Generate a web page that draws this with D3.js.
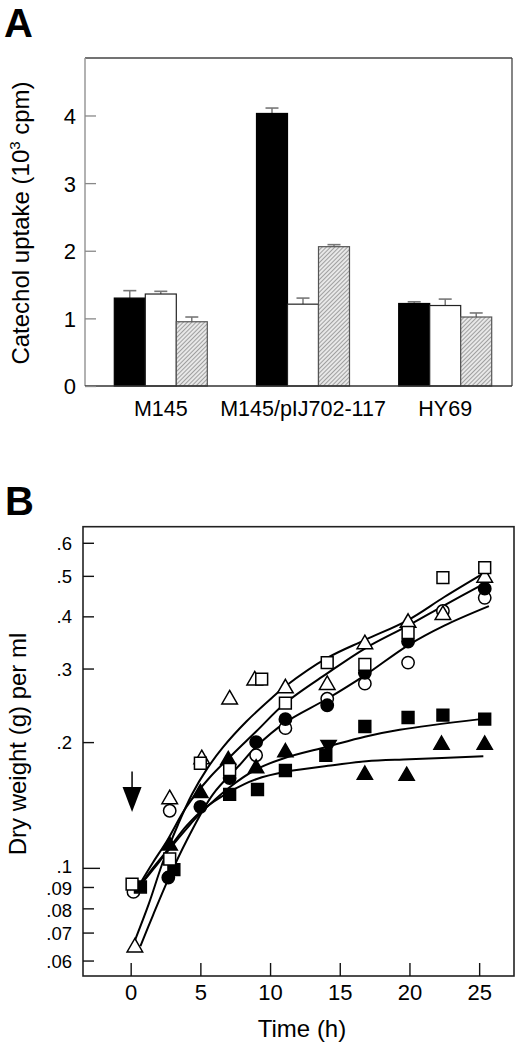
<!DOCTYPE html>
<html><head><meta charset="utf-8">
<script src="https://cdn.jsdelivr.net/npm/d3@7/dist/d3.min.js"></script>
<style>
html,body{margin:0;padding:0;background:#fff;}
svg{display:block;font-family:"Liberation Sans",Arial,sans-serif;}
</style></head>
<body>
<svg id="chart" width="520" height="1047"></svg>
<script>
// ---------- Panel A data ----------
const categoriesA = ["M145", "M145/pIJ702-117", "HY69"];
const seriesA = ["black", "white", "hatched"];
const valuesBlack = [1.30, 4.03, 1.22];
const errorsBlack = [0.11, 0.08, 0.025];
const valuesWhite = [1.36, 1.21, 1.19];
const errorsWhite = [0.04, 0.09, 0.095];
const valuesHatched = [0.95, 2.06, 1.02];
const errorsHatched = [0.07, 0.03, 0.06];
const ticksA = [0, 1, 2, 3, 4];

// ---------- Panel B data ----------
const openSquareT = [0.1, 2.8, 5.0, 7.1, 9.4, 11.1, 14.1, 16.8, 19.9, 22.4, 25.4];
const openSquareV = [0.0914, 0.105, 0.178, 0.172, 0.283, 0.248, 0.310, 0.307, 0.366, 0.495, 0.523];
const openTriangleT = [0.3, 2.8, 5.1, 7.1, 8.9, 11.1, 14.1, 16.8, 19.9, 22.4, 25.4];
const openTriangleV = [0.0645, 0.146, 0.182, 0.253, 0.281, 0.269, 0.274, 0.343, 0.386, 0.403, 0.495];
const openCircleT = [0.2, 2.8, 9.0, 11.1, 14.1, 16.8, 19.9, 22.4, 25.4];
const openCircleV = [0.0876, 0.137, 0.186, 0.216, 0.254, 0.276, 0.310, 0.412, 0.443];
const filledCircleT = [2.7, 5.0, 7.1, 9.0, 11.1, 14.1, 16.8, 19.9, 25.4];
const filledCircleV = [0.0948, 0.140, 0.164, 0.200, 0.227, 0.245, 0.293, 0.348, 0.466];
const filledSquareT = [0.7, 3.1, 7.1, 9.1, 11.1, 14.0, 16.8, 19.9, 22.4, 25.4];
const filledSquareV = [0.090, 0.099, 0.150, 0.154, 0.171, 0.186, 0.218, 0.229, 0.232, 0.227];
const filledTriangleT = [2.8, 5.0, 7.0, 9.0, 11.1, 16.8, 19.8, 22.3, 25.4];
const filledTriangleV = [0.113, 0.151, 0.181, 0.173, 0.189, 0.167, 0.166, 0.197, 0.197];
const filledInvTriangleT = [14.2];
const filledInvTriangleV = [0.197];

// fitted curves
const curve1T = [0.3, 1.3, 2.3, 3.4, 4.4, 5.5, 6.6, 8.3, 10, 11.1, 14.1, 16.8, 19.9, 22.5, 25.4];
const curve1V = [0.067, 0.082, 0.103, 0.127, 0.150, 0.173, 0.194, 0.224, 0.253, 0.272, 0.318, 0.351, 0.392, 0.445, 0.509];
const curve2T = [0.7, 1.6, 2.6, 4.0, 5.7, 7.1, 9.0, 11.1, 14.1, 16.8, 19.9, 22.5, 25.4];
const curve2V = [0.092, 0.103, 0.116, 0.140, 0.165, 0.184, 0.212, 0.248, 0.292, 0.335, 0.380, 0.425, 0.480];
const curve3T = [0.7, 1.6, 2.7, 4.0, 5.9, 7.8, 9.0, 11.1, 14.1, 16.8, 19.9, 22.5, 25.7];
const curve3V = [0.065, 0.077, 0.094, 0.116, 0.150, 0.176, 0.195, 0.223, 0.254, 0.289, 0.341, 0.380, 0.423];
const curve4T = [0.7, 1.6, 2.6, 4.0, 5.0, 7.1, 9.0, 11.0, 14.1, 16.8, 19.3, 25.1];
const curve4V = [0.091, 0.099, 0.109, 0.124, 0.135, 0.156, 0.172, 0.183, 0.195, 0.206, 0.214, 0.227];
const curve5T = [0.7, 1.6, 2.8, 4.0, 5.2, 7.1, 9.0, 11.2, 14.5, 16.9, 20, 25.3];
const curve5V = [0.091, 0.100, 0.112, 0.126, 0.138, 0.152, 0.163, 0.170, 0.176, 0.180, 0.182, 0.185];

const arrowT = 0.1, arrowFromV = 0.17, arrowToV = 0.136;
const ticksBX = [0, 5, 10, 15, 20, 25];
const ticksBY = [0.06, 0.07, 0.08, 0.09, 0.1, 0.2, 0.3, 0.4, 0.5, 0.6];
const tickLabelsBY = [".06", ".07", ".08", ".09", ".1", ".2", ".3", ".4", ".5", ".6"];

const svg = d3.select("#chart");

// hatch pattern
const defs = svg.append("defs");
const pat = defs.append("pattern").attr("id", "hatch").attr("patternUnits", "userSpaceOnUse")
  .attr("width", 3).attr("height", 3).attr("patternTransform", "rotate(45)");
pat.append("rect").attr("width", 3).attr("height", 3).attr("fill", "#e8e8e8");
pat.append("line").attr("x1", 0.5).attr("y1", 0).attr("x2", 0.5).attr("y2", 3)
  .attr("stroke", "#a0a0a0").attr("stroke-width", 1);

// ================= Panel A =================
const A = {left: 85, right: 512, top: 58, bottom: 386};
const yA = d3.scaleLinear().domain([0, 4.85]).range([A.bottom, A.top]);
const xA = d3.scaleBand().domain(categoriesA).range([89.7, 516.3]).paddingInner(0.346).paddingOuter(0.173);
const xSub = d3.scaleBand().domain(seriesA).range([0, xA.bandwidth()]);

svg.append("text").attr("x", 4).attr("y", 37).attr("font-size", 40).attr("font-weight", "bold").text("A");

const gA = svg.append("g");
gA.append("line").attr("x1", A.left).attr("x2", A.right).attr("y1", A.top).attr("y2", A.top).attr("stroke", "#444").attr("stroke-width", 1.3);
gA.append("line").attr("x1", A.right).attr("x2", A.right).attr("y1", A.top).attr("y2", A.bottom).attr("stroke", "#444").attr("stroke-width", 1.3);

const barData = [];
const vals = {black: valuesBlack, white: valuesWhite, hatched: valuesHatched};
const errs = {black: errorsBlack, white: errorsWhite, hatched: errorsHatched};
categoriesA.forEach((c, i) => seriesA.forEach(s => barData.push({c, s, v: vals[s][i], e: errs[s][i]})));

const cx = d => xA(d.c) + xSub(d.s) + xSub.bandwidth() / 2;
const eb = gA.selectAll(".eb").data(barData).enter().append("g");
eb.append("line").attr("x1", cx).attr("x2", cx)
  .attr("y1", d => yA(d.v)).attr("y2", d => yA(d.v + d.e))
  .attr("stroke", "#666").attr("stroke-width", 1.3);
eb.append("line").attr("x1", d => cx(d) - 6.5).attr("x2", d => cx(d) + 6.5)
  .attr("y1", d => yA(d.v + d.e)).attr("y2", d => yA(d.v + d.e))
  .attr("stroke", "#777").attr("stroke-width", 1.6);

gA.selectAll(".bar").data(barData).enter().append("rect")
  .attr("x", d => xA(d.c) + xSub(d.s))
  .attr("y", d => yA(d.v))
  .attr("width", xSub.bandwidth())
  .attr("height", d => yA(0) - yA(d.v))
  .attr("fill", d => d.s === "black" ? "#000" : d.s === "white" ? "#fff" : "url(#hatch)")
  .attr("stroke", d => d.s === "black" ? "#000" : d.s === "white" ? "#222" : "#555")
  .attr("stroke-width", 1.2);

gA.append("line").attr("x1", A.left).attr("x2", A.left).attr("y1", A.top).attr("y2", A.bottom).attr("stroke", "#999").attr("stroke-width", 1.5);
gA.append("line").attr("x1", A.left).attr("x2", A.right).attr("y1", A.bottom).attr("y2", A.bottom).attr("stroke", "#333").attr("stroke-width", 1.5);

const yAxisA = d3.axisRight(yA).tickValues(ticksA).tickSize(11).tickFormat(d3.format("d"));
const gyA = gA.append("g").attr("transform", `translate(${A.left},0)`).call(yAxisA);
gyA.select(".domain").remove();
gyA.selectAll(".tick line").attr("stroke", "#888").attr("stroke-width", 1.3);
gyA.selectAll(".tick text").attr("x", -9).attr("text-anchor", "end").attr("font-size", 22).attr("fill", "#000").attr("dy", "0.36em");

const xAxisA = d3.axisBottom(xA).tickSize(0);
const gxA = gA.append("g").attr("transform", `translate(0,${A.bottom})`).call(xAxisA);
gxA.select(".domain").remove();
gxA.selectAll(".tick text").attr("y", 15).attr("dy", "0.71em").attr("font-size", 21.5).attr("fill", "#000");

const ytA = svg.append("text").attr("transform", "translate(29,223) rotate(-90)").attr("text-anchor", "middle").attr("font-size", 24);
ytA.append("tspan").text("Catechol uptake (10");
ytA.append("tspan").attr("font-size", 15).attr("dy", -9).text("3");
ytA.append("tspan").attr("dy", 9).text(" cpm)");

// ================= Panel B =================
const B = {left: 83, right: 514, top: 526.7, bottom: 976};
const xB = d3.scaleLinear().domain([-3.42, 27.5]).range([B.left, B.right]);
const yB = d3.scaleLog().domain([0.0551, 0.6556]).range([B.bottom, B.top]);

svg.append("text").attr("x", 5).attr("y", 515).attr("font-size", 40).attr("font-weight", "bold").text("B");

const gB = svg.append("g");
gB.append("rect").attr("x", B.left).attr("y", B.top).attr("width", B.right - B.left).attr("height", B.bottom - B.top)
  .attr("fill", "none").attr("stroke", "#222").attr("stroke-width", 1.6);

const xAxisB = d3.axisTop(xB).tickValues(ticksBX).tickSize(13).tickFormat(d3.format("d"));
const gxB = gB.append("g").attr("transform", `translate(0,${B.bottom})`).call(xAxisB);
gxB.select(".domain").remove();
gxB.selectAll(".tick line").attr("stroke", "#111").attr("stroke-width", 1.4);
gxB.selectAll(".tick text").attr("y", 8).attr("dy", "0.71em").attr("font-size", 22).attr("fill", "#000");

const yAxisB = d3.axisRight(yB).tickValues(ticksBY).tickSize(11).tickFormat((d, i) => tickLabelsBY[i]);
const gyB = gB.append("g").attr("transform", `translate(${B.left},0)`).call(yAxisB);
gyB.select(".domain").remove();
gyB.selectAll(".tick line").attr("stroke", "#111").attr("stroke-width", 1.4)
  .attr("x2", d => d === 0.1 ? 17 : 11);
const labelShift = d => d === 0.1 ? -2.4 : d === 0.09 ? 0.6 : d === 0.08 ? 1.4 : 0;
gyB.selectAll(".tick text").attr("x", -11).attr("text-anchor", "end").attr("font-size", 18.5).attr("fill", "#000")
  .attr("dy", d => (6.6 + labelShift(d)) + "px");

// curves
const curves = [[curve1T, curve1V], [curve2T, curve2V], [curve3T, curve3V], [curve4T, curve4V], [curve5T, curve5V]];
const lineGen = d3.line().x(d => xB(d[0])).y(d => yB(d[1])).curve(d3.curveCatmullRom.alpha(0.5));
curves.forEach(([ts, vs]) => {
  gB.append("path").datum(ts.map((t, i) => [t, vs[i]])).attr("d", lineGen)
    .attr("fill", "none").attr("stroke", "#000").attr("stroke-width", 2);
});

// arrow
gB.append("line").attr("x1", xB(arrowT)).attr("x2", xB(arrowT)).attr("y1", yB(arrowFromV)).attr("y2", yB(arrowToV) - 20)
  .attr("stroke", "#000").attr("stroke-width", 1.5);
gB.append("path").attr("d", `M${xB(arrowT) - 9.5},${yB(arrowToV) - 25} L${xB(arrowT) + 9.5},${yB(arrowToV) - 25} L${xB(arrowT)},${yB(arrowToV)} Z`).attr("fill", "#000");

// symbols
const symSets = [
  {t: openCircleT, v: openCircleV, type: d3.symbolCircle, size: 120, fill: "#fff"},
  {t: filledCircleT, v: filledCircleV, type: d3.symbolCircle, size: 120, fill: "#000"},
  {t: filledSquareT, v: filledSquareV, type: d3.symbolSquare, size: 140, fill: "#000"},
  {t: filledTriangleT, v: filledTriangleV, type: d3.symbolTriangle, size: 100, fill: "#000"},
  {t: filledInvTriangleT, v: filledInvTriangleV, type: d3.symbolTriangle, size: 100, fill: "#000", rot: 180},
  {t: openTriangleT, v: openTriangleV, type: d3.symbolTriangle, size: 105, fill: "#fff"},
  {t: openSquareT, v: openSquareV, type: d3.symbolSquare, size: 140, fill: "#fff"}
];
symSets.forEach(s => {
  gB.selectAll(null).data(s.t.map((t, i) => [t, s.v[i]])).enter().append("path")
    .attr("d", d3.symbol().type(s.type).size(s.size)())
    .attr("transform", d => `translate(${xB(d[0])},${yB(d[1])})` + (s.rot ? ` rotate(${s.rot})` : ""))
    .attr("fill", s.fill).attr("stroke", "#000").attr("stroke-width", 1.5);
});

svg.append("text").attr("x", 302).attr("y", 1037).attr("text-anchor", "middle").attr("font-size", 24).text("Time (h)");
svg.append("text").attr("transform", "translate(26,744) rotate(-90)").attr("text-anchor", "middle").attr("font-size", 24).text("Dry weight (g) per ml");
</script>
</body></html>
